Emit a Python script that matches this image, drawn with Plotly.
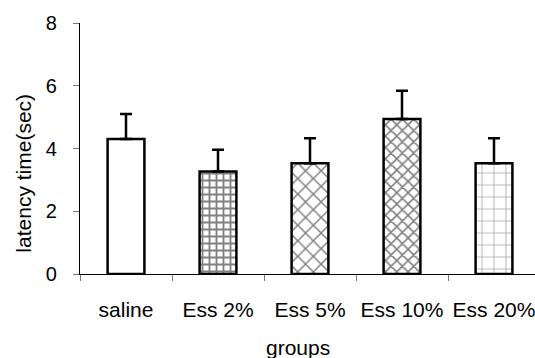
import plotly.graph_objects as go

groups = ["saline", "Ess 2%", "Ess 5%", "Ess 10%", "Ess 20%"]
latency = [4.30, 3.27, 3.53, 4.94, 3.53]
sem = [0.80, 0.69, 0.80, 0.90, 0.80]
y_ticks = [0, 2, 4, 6, 8]
patterns = ["", "+", "x", "x", "+"]
pattern_sizes = [8, 7, 11, 8, 12]
pattern_colors = ["black", "black", "black", "black", "#444"]
pattern_solidity = [0.3, 0.45, 0.25, 0.35, 0.12]

FONT = "Arial, Liberation Sans, sans-serif"

fig = go.Figure()
fig.add_trace(go.Bar(
    x=groups, y=latency, width=0.4,
    marker=dict(color="white", line=dict(color="black", width=2.5),
                pattern=dict(shape=patterns, size=pattern_sizes,
                             fgcolor=pattern_colors, bgcolor="white",
                             solidity=pattern_solidity, fillmode="overlay")),
    error_y=dict(type="data", array=sem, arrayminus=[0]*len(sem), symmetric=False,
                 color="black", thickness=2.5, width=6),
))

fig.update_layout(
    width=535, height=358,
    margin=dict(l=80, r=0, t=23, b=84, autoexpand=False),
    paper_bgcolor="white", plot_bgcolor="white",
    showlegend=False,
    font=dict(family=FONT, size=20, color="black"),
    xaxis=dict(range=[-0.5, -0.5 + 455/92], showline=True, linecolor="black", linewidth=1.2,
               ticks="outside", tickson="boundaries", ticklen=6, tickcolor="#777",
               showgrid=False, ticklabelstandoff=17, tickfont=dict(size=21),
               automargin=False),
    yaxis=dict(range=[0, 8], tickvals=y_ticks, showline=True, linecolor="black", linewidth=1.2,
               ticks="outside", ticklen=6, tickcolor="#777", showgrid=False, zeroline=False,
               ticklabelstandoff=12, tickfont=dict(size=20), automargin=False),
    annotations=[
        dict(text="groups", xref="paper", yref="paper", x=0.479, y=-0.293,
             xanchor="center", yanchor="middle", showarrow=False, font=dict(size=21)),
        dict(text="latency time(sec)", xref="paper", yref="paper", x=-0.123, y=0.40,
             xanchor="center", yanchor="middle", textangle=-90, showarrow=False,
             font=dict(size=21)),
    ],
)

fig.write_html("out.html", config={"displayModeBar": False},
               post_script="document.body.style.margin='0';")
